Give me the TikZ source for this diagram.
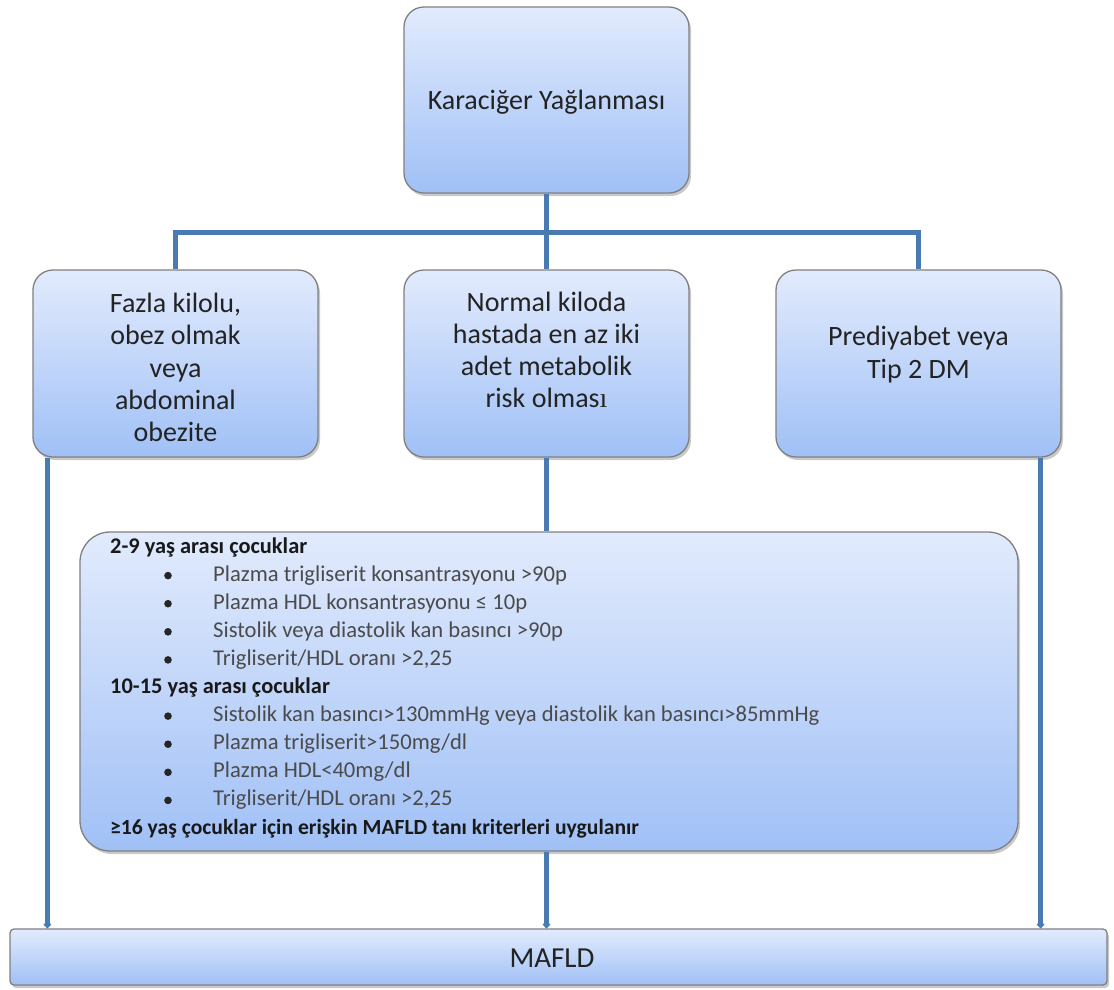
\documentclass[tikz,border=0pt]{standalone}
\usepackage{fontspec}
\setmainfont{Carlito}
\newfontfamily\serifi{Liberation Serif}
\usetikzlibrary{shadows,arrows.meta}

\definecolor{linec}{RGB}{74,122,178}
\definecolor{boxtop}{RGB}{226,235,253}
\definecolor{boxbot}{RGB}{160,192,246}
\definecolor{bordc}{RGB}{128,128,128}
\definecolor{txt}{RGB}{35,35,35}
\definecolor{itemc}{RGB}{75,75,75}

\begin{document}
\begin{tikzpicture}[x=1pt,y=-1pt,
  box/.style={draw=bordc, line width=1.3pt, top color=boxtop, bottom color=boxbot,
    rounded corners=20pt, inner sep=0pt,
    drop shadow={shadow xshift=2pt, shadow yshift=-3pt, opacity=0.35, fill=black!60}},
  conn/.style={draw=linec, line width=5pt},
  arr/.style={conn, -{Triangle[width=9pt,length=5pt,round]}},
  big/.style={font=\fontsize{28}{32.2}\selectfont, text=txt, align=center, inner sep=0pt},
  item/.style={anchor=base west, font=\fontsize{22.6}{26}\selectfont, text=itemc, inner sep=0pt},
  head/.style={anchor=base west, font=\bfseries\fontsize{22.4}{26}\selectfont, text=black!90, inner sep=0pt},
  dot/.style={fill=black!85}
]
\fill[white] (0,0) rectangle (1114,989);
\useasboundingbox (0,0) rectangle (1114,989);

\node[box, minimum width=285pt, minimum height=186pt] (top) at (546.5,100) {};
\node[box, minimum width=285pt, minimum height=187pt] (left) at (175.5,363.5) {};
\node[box, minimum width=285pt, minimum height=187pt] (mid) at (546.5,363.5) {};
\node[box, minimum width=285pt, minimum height=187pt] (right) at (918.5,363.5) {};
\node[box, minimum width=938pt, minimum height=319pt, rounded corners=30pt] (list) at (549,691.5) {};
\node[box, minimum width=1097pt, minimum height=56pt, rounded corners=4pt] (mafld) at (558.5,957) {};

\coordinate (junc) at (546.5,232);
\draw[conn] (top.south) -- (mid.north);
\draw[conn] (left.north) |- (junc) -| (right.north);
\draw[conn] (mid.south) -- (mid.south |- list.north);
\draw[arr] ([xshift=15pt]left.south west) -- ([xshift=15pt]left.south west |- mafld.north);
\draw[arr] ([xshift=-21pt]right.south east) -- ([xshift=-21pt]right.south east |- mafld.north);
\draw[arr] (mid.south |- list.south) -- (mid.south |- mafld.north);

% box texts
\node[big] (ttop) at (546.5,102) {Karaciğer Yağlanması};
\node[big] (tleft) at (175.5,367.5) {Fazla kilolu,\\obez olmak\\veya\\abdominal\\obezite};
\node[big] (tmid) at (546.5,350) {Normal kiloda\\hastada en az iki\\adet metabolik\\risk olmas{\serifi ı}};
\node[big] (tright) at (918.5,354.5) {Prediyabet veya\\Tip 2 DM};
\node[big, font=\fontsize{29}{33}\selectfont] (tmafld) at (552,958.5) {MAFLD};

% list
\node[head] (h1) at (110,553) {2-9 yaş arası çocuklar};
\node[item] (i1) at (213,581.1) {Plazma trigliserit konsantrasyonu >90p};
\node[item] (i2) at (213,609.2) {Plazma HDL konsantrasyonu ≤ 10p};
\node[item] (i3) at (213,637.3) {Sistolik veya diastolik kan basıncı >90p};
\node[item] (i4) at (213,665.4) {Trigliserit/HDL oranı >2,25};
\node[head] (h2) at (110,693.5) {10-15 yaş arası çocuklar};
\node[item] (i5) at (213,721.6) {Sistolik kan basıncı>130mmHg veya diastolik kan basıncı>85mmHg};
\node[item] (i6) at (213,749.7) {Plazma trigliserit>150mg/dl};
\node[item] (i7) at (213,777.8) {Plazma HDL<40mg/dl};
\node[item] (i8) at (213,805.9) {Trigliserit/HDL oranı >2,25};
\node[head, font=\bfseries\fontsize{21.6}{26}\selectfont] (h3) at (110,834) {≥16 yaş çocuklar için erişkin MAFLD tanı kriterleri uygulanır};

\foreach \b in {581.1,609.2,637.3,665.4,721.6,749.7,777.8,805.9}
  \fill[dot] (168,\b-5.5) circle (3.8pt);
\end{tikzpicture}
\end{document}
